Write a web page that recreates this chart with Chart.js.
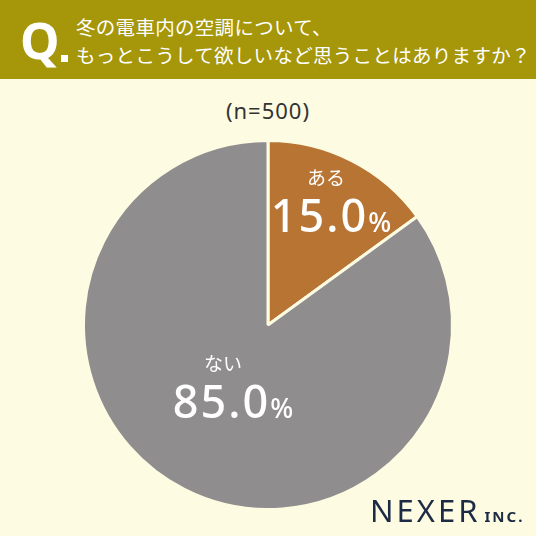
<!DOCTYPE html>
<html><head><meta charset="utf-8">
<script src="https://cdn.jsdelivr.net/npm/chart.js@4"></script>
<style>
html,body{margin:0;padding:0;background:#fdfbe1;}
#wrap{position:relative;width:536px;height:536px;overflow:hidden;background:#fdfbe1;font-family:"Noto Sans CJK JP","Noto Sans",sans-serif;}
#hdr{position:absolute;left:0;top:0;width:536px;height:79px;background:#a5960a;}
#q{position:absolute;left:20px;top:10px;color:#fff;font-family:"Noto Sans","Open Sans",sans-serif;font-weight:700;font-size:50px;line-height:60px;}
#qdot{position:absolute;left:61px;top:55px;width:7px;height:7px;background:#fff;}
#t1,#t2{position:absolute;left:76px;color:#fff;font-size:19.5px;line-height:24px;white-space:nowrap;letter-spacing:0.3px;}
#t1{top:15px;}#t2{top:43px;}
#n{position:absolute;left:0;width:536px;top:95px;text-align:center;color:#333;font-size:22px;letter-spacing:1px;font-family:"Noto Sans",sans-serif;}
#logo{position:absolute;left:370px;top:489px;color:#1e2b45;font-family:"Noto Sans",sans-serif;font-size:31px;letter-spacing:3px;white-space:nowrap;}
#logo span{font-size:15px;font-weight:700;letter-spacing:2px;margin-left:4px;}
canvas{position:absolute;left:0;top:0;}
</style></head><body>
<div id="wrap">
<div id="hdr"><div id="q">Q</div><div id="qdot"></div>
<div id="t1">冬の電車内の空調について、</div>
<div id="t2">もっとこうして欲しいなど思うことはありますか？</div></div>
<div id="n">(n=500)</div>
<canvas id="c" width="536" height="536"></canvas>
<div id="logo">NEXER<span>INC.</span></div>
</div>
<script>
const categories = ["ある", "ない"];
const values = [15.0, 85.0];
const colors = ["#b87433", "#8f8d8e"];

const labelPlugin = {
  id: 'sliceLabels',
  afterDatasetsDraw(chart) {
    const ctx = chart.ctx;
    const meta = chart.getDatasetMeta(0);
    const offs = [[63, -109], [-35, 77]];
    const catDx = [-5, -10];
    const numFont = '500 45px "Noto Sans", sans-serif';
    const pctFont = '500 27px "Noto Sans", sans-serif';
    meta.data.forEach((arc, i) => {
      const x = arc.x + offs[i][0], y = arc.y + offs[i][1];
      ctx.save();
      ctx.fillStyle = '#fff';
      ctx.textBaseline = 'alphabetic';
      ctx.textAlign = 'center';
      ctx.font = '19px "Noto Sans CJK JP"';
      ctx.fillText(categories[i], x + catDx[i], y - 31);
      const num = values[i].toFixed(1);
      ctx.letterSpacing = '2px';
      ctx.font = numFont;
      const wn = ctx.measureText(num).width;
      ctx.letterSpacing = '0px';
      ctx.font = pctFont;
      const wp = ctx.measureText('%').width;
      const start = x - (wn + wp) / 2;
      ctx.textAlign = 'left';
      ctx.letterSpacing = '2px';
      ctx.font = numFont;
      ctx.fillText(num, start, y + 16);
      ctx.letterSpacing = '0px';
      ctx.font = pctFont;
      ctx.fillText('%', start + wn, y + 16);
      ctx.restore();
    });
  }
};

new Chart(document.getElementById('c'), {
  type: 'pie',
  data: { labels: categories, datasets: [{ data: values, backgroundColor: colors, borderColor: '#fdfbe1', borderWidth: 3 }] },
  options: {
    responsive: false, animation: false,
    layout: { padding: { top: 139, bottom: 25, left: 82, right: 82 } },
    plugins: { legend: { display: false }, tooltip: { enabled: false } }
  },
  plugins: [labelPlugin]
});
</script>
</body></html>
